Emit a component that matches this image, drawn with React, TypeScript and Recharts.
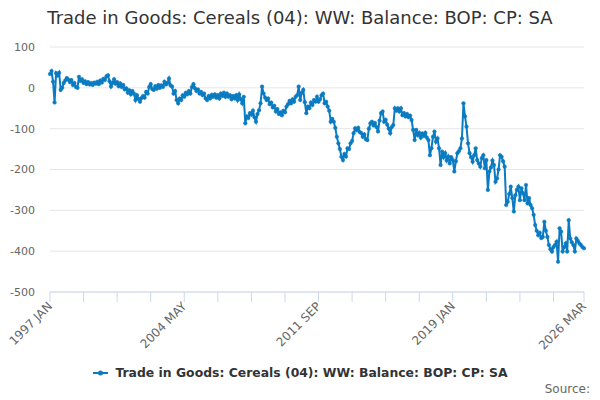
import React from 'react';
import { LineChart, Line, XAxis, YAxis, CartesianGrid } from 'recharts';

const SERIES_NAME = 'Trade in Goods: Cereals (04): WW: Balance: BOP: CP: SA';
const LINE_COLOR = '#0b7bc1';
const FONT = '"DejaVu Sans", Verdana, sans-serif';

// monthly values, 1997 JAN .. 2026 MAR (one row per year)
const values1997to2005 = [
  34, 41, 15, -36, 36, 30, 37, -5, 0, 12, 18, 24,
  20, 14, 19, 7, 12, 2, 0, 27, 17, 21, 12, 16,
  9, 14, 8, 12, 7, 13, 10, 15, 9, 18, 13, 22,
  19, 28, 31, 16, 3, 12, 21, 10, 14, 4, 11, 2,
  7, -4, -1, -12, -6, -16, -8, -14, -30, -18, -27, -34,
  -25, -20, -24, -10, -14, 2, 9, -3, -5, 4, -2, 7,
  0, 6, 2, 15, 8, 12, 23, 6, 3, -14, -8, -30,
  -38, -26, -30, -18, -22, -12, -16, -8, -14, 2, 9, -1,
  -8, -4, -14, -10, -18, -14, -26, -30, -20, -26, -17, -22,
];
const values2006to2014 = [
  -16, -24, -18, -26, -14, -20, -12, -22, -14, -22, -18, -28,
  -20, -26, -18, -30, -16, -28, -38, -22, -87, -70, -74, -62,
  -66, -56, -72, -83, -64, -55, -38, 3, -14, -24, -30, -26,
  -40, -36, -48, -44, -58, -52, -64, -60, -67, -56, -60, -46,
  -40, -32, -38, -28, -34, -22, -18, 3, -30, -12, -5, -35,
  -62, -46, -50, -36, -42, -30, -34, -22, -34, -28, -18, -14,
  -38, -34, -46, -56, -83, -76, -83, -98, -120, -136, -150, -169,
  -177, -162, -168, -148, -150, -136, -130, -111, -99, -104, -98, -108,
  -111, -120, -114, -126, -128, -100, -87, -83, -92, -86, -96, -107,
];
const values2015to2026 = [
  -80, -62, -58, -83, -78, -90, -100, -111, -96, -91, -50, -56,
  -50, -58, -50, -67, -62, -70, -64, -72, -68, -79, -103, -128,
  -103, -116, -110, -122, -112, -118, -110, -122, -128, -165, -148, -120,
  -107, -132, -124, -148, -189, -156, -170, -160, -178, -168, -185, -170,
  -177, -205, -180, -160, -155, -148, -124, -38, -70, -95, -136, -160,
  -170, -181, -165, -148, -177, -185, -193, -172, -165, -197, -177, -250,
  -205, -195, -178, -189, -230, -222, -200, -165, -169, -180, -193, -287,
  -279, -260, -242, -270, -303, -263, -250, -242, -275, -246, -258, -275,
  -238, -283, -270, -287, -295, -311, -336, -350, -361, -355, -368, -365,
  -328, -350, -365, -385, -395, -401, -390, -385, -377, -426, -344, -352,
  -401, -390, -381, -401, -324, -369, -378, -385, -401, -369, -375, -381,
  -385, -390, -393,
];

const balance = [...values1997to2005, ...values2006to2014, ...values2015to2026];

const yTicks = [-500, -400, -300, -200, -100, 0, 100];
const xTickIndex = [0, 22, 44, 66, 88, 110, 132, 154, 176, 198, 220, 242, 264, 286, 308, 330, 350];
const xLabelIndex = [0, 88, 176, 264, 350];
const xLabels = ['1997 JAN', '2004 MAY', '2011 SEP', '2019 JAN', '2026 MAR'];

const data = balance.map((v, i) => ({ i, v }));

const XTick = (props: any) => {
  const { x, y, payload } = props;
  const k = xLabelIndex.indexOf(payload.value);
  if (k < 0) return null;
  return (
    <text
      x={x + 3}
      y={y + 3}
      transform={`rotate(-45, ${x + 3}, ${y + 3})`}
      textAnchor="end"
      fontSize={12}
      fill="#666"
      fontFamily={FONT}
    >
      {xLabels[k]}
    </text>
  );
};

export default function App() {
  return (
    <div style={{ position: 'fixed', left: 0, top: 0, width: 600, height: 400, background: '#fff', fontFamily: FONT }}>
      <div style={{ position: 'absolute', left: 0, top: 7, width: 600, textAlign: 'center', fontSize: 18, color: '#333' }}>
        {SERIES_NAME}
      </div>
      <LineChart width={600} height={400} data={data} margin={{ top: 47, right: 16, bottom: 0, left: 0 }}>
        <CartesianGrid vertical={false} stroke="#e6e6e6" />
        <XAxis
          type="number"
          dataKey="i"
          domain={[0, 350]}
          ticks={xTickIndex}
          interval={0}
          height={108}
          tickSize={10}
          tick={<XTick />}
          stroke="#ccd6eb"
          tickLine={{ stroke: '#ccd6eb' }}
        />
        <YAxis
          domain={[-500, 100]}
          ticks={yTicks}
          width={50}
          axisLine={false}
          tickLine={false}
          tickMargin={9}
          tick={{ fontSize: 11, fill: '#666', fontFamily: FONT }}
        />
        <Line
          type="linear"
          dataKey="v"
          stroke={LINE_COLOR}
          strokeWidth={2}
          dot={{ r: 1.8, fill: LINE_COLOR, stroke: LINE_COLOR, strokeWidth: 0.5 }}
          isAnimationActive={false}
        />
      </LineChart>
      <div style={{ position: 'absolute', left: 0, top: 365, width: 600, display: 'flex', justifyContent: 'center', alignItems: 'center' }}>
        <svg width={18} height={10} style={{ marginRight: 5 }}>
          <line x1={1} y1={5} x2={16} y2={5} stroke={LINE_COLOR} strokeWidth={2} />
          <circle cx={8.5} cy={5} r={2.5} fill={LINE_COLOR} />
        </svg>
        <span style={{ fontSize: 12.4, fontWeight: 'bold', color: '#333' }}>{SERIES_NAME}</span>
      </div>
      <div style={{ position: 'absolute', right: 10, top: 382, fontSize: 12, color: '#666' }}>Source:</div>
    </div>
  );
}
